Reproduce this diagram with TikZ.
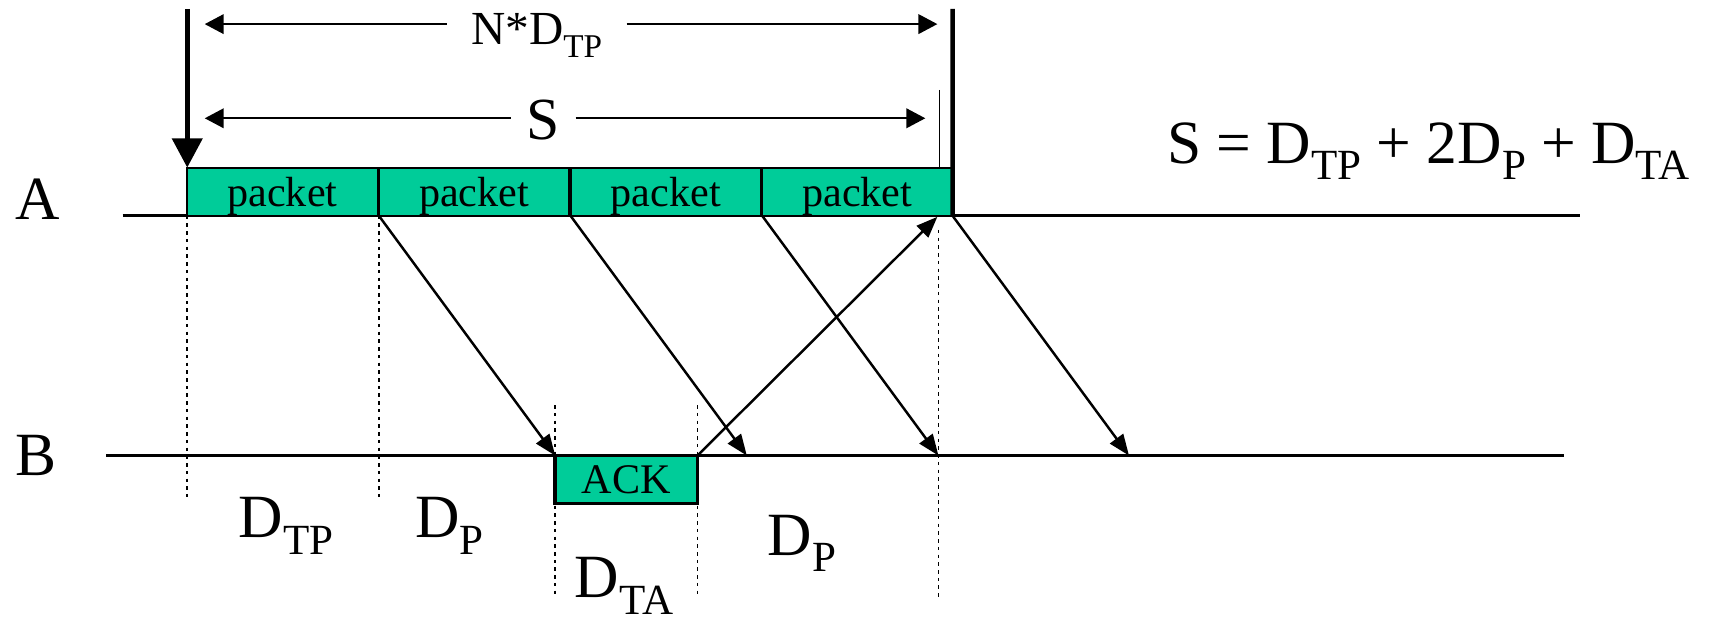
\documentclass[tikz,border=0pt]{standalone}
\usepackage{fontspec}
\setmainfont{Liberation Serif}
\usetikzlibrary{positioning,arrows.meta}
\definecolor{PacketGreen}{HTML}{00CC99}
\newcommand{\Dsub}[1]{D\raisebox{-0.27em}{\scalebox{0.7}{#1}}}
\newcommand{\bigfont}{\fontsize{17.5}{21}\selectfont}

\begin{document}
\begin{tikzpicture}[x=0.01095cm, y=-0.01095cm,
    every node/.style={inner sep=0pt, outer sep=0pt},
    timeline/.style={line width=0.8pt},
    guide/.style={line width=0.5pt, dash pattern=on 1pt off 1.2pt},
    msg/.style={line width=0.7pt, -{Triangle[length=6pt,width=4.6pt]}},
    dimline/.style={line width=0.5pt, -{Triangle[length=5.4pt,width=5.6pt]}},
    thickline/.style={line width=1.3pt},
    slot/.style={draw, fill=PacketGreen, line width=0.6pt, minimum height=0.482cm,
                 text depth=0pt, font=\fontsize{12}{14}\selectfont},
    biglabel/.style={font=\bigfont, anchor=base west}]
  \useasboundingbox (0,0) rectangle (1568,566);

  % dotted guides
  \foreach \x/\top/\bot in {171/197/455, 346/197/455, 507/370/545, 637/370/545, 857/210/545}
    \draw[guide] (\x,\top) -- (\x,\bot);

  % time lines
  \coordinate (A0) at (112,197);
  \coordinate (A1) at (1443,197);
  \coordinate (B0) at (97,416);
  \coordinate (B1) at (1428,416);
  \draw[timeline] (A0) -- (A1);
  \draw[timeline] (B0) -- (B1);
  \node[biglabel] (labA) at (14,200) {A};
  \node[biglabel] (labB) at (14,434) {B};

  % packets and ack
  \foreach \i/\x in {1/171,2/346,3/521,4/696}
    \node[slot, minimum width=1.905cm, anchor=south west] (p\i) at (\x,197) {packet};
  \node[slot, minimum width=1.4235cm, line width=1pt, anchor=north west] (ack) at (507,416) {ACK};

  % messages
  \coordinate (r2) at (682,416);
  \coordinate (r3) at (857,416);
  \coordinate (r4) at (1031,416);
  \coordinate (ackin) at (856,198);
  \draw[msg] (p2.south west) -- (ack.north west);
  \draw[msg] (p3.south west) -- (r2);
  \draw[msg] (p4.south west) -- (r3);
  \draw[msg] (p4.south east) -- (r4);
  \draw[msg] (ack.north east) -- (ackin);

  % start and end marks
  \coordinate (startTop) at (171,8);
  \coordinate (endTop) at (870,8);
  \coordinate (tick) at (858,82);
  \draw[thickline, -{Triangle[length=8.3pt,width=8.5pt]}] (startTop) -- (p1.north west);
  \draw[thickline] (endTop) -- (p4.south east);
  \draw[line width=0.5pt] (tick) -- (tick |- p4.north);

  % dimensions
  \coordinate (ndL) at (187,22);
  \coordinate (ndR) at (856,22);
  \node[font=\fontsize{13.5}{16}\selectfont, anchor=base, inner xsep=7pt] (ndtp) at (490,41) {N*\Dsub{TP}};
  \draw[dimline] (ndtp.west |- ndL) -- (ndL);
  \draw[dimline] (ndtp.east |- ndR) -- (ndR);
  \coordinate (sL) at (187,108);
  \coordinate (sR) at (845,108);
  \node[font=\fontsize{17}{20}\selectfont, anchor=base, inner xsep=4.5pt] (slabel) at (496,127) {S};
  \draw[dimline] (slabel.west |- sL) -- (sL);
  \draw[dimline] (slabel.east |- sR) -- (sR);

  % delays
  \node[biglabel] (formula) at (1066,149) {S = \Dsub{TP} + 2\Dsub{P} + \Dsub{TA}};
  \node[biglabel] (dtp) at (218,491) {\Dsub{TP}};
  \node[biglabel] (dp1) at (379,491) {\Dsub{P}};
  \node[biglabel] (dta) at (525,546) {\Dsub{TA}};
  \node[biglabel] (dp2) at (701,507) {\Dsub{P}};
\end{tikzpicture}
\end{document}
